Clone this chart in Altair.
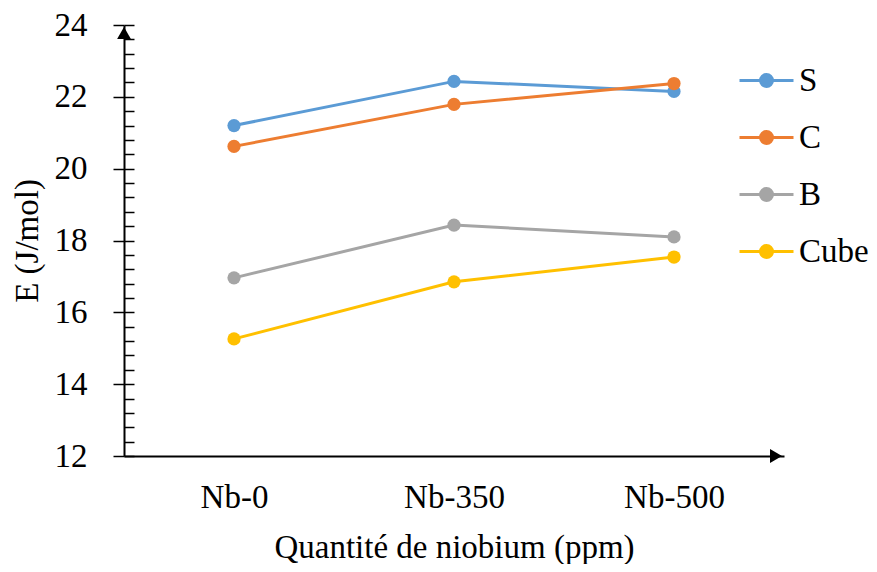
import altair as alt
import pandas as pd

# ---- data ----
categories = ["Nb-0", "Nb-350", "Nb-500"]
series_names = ["S", "C", "B", "Cube"]
S_vals = [21.2, 22.43, 22.15]
C_vals = [20.62, 21.79, 22.37]
B_vals = [16.96, 18.43, 18.1]
Cube_vals = [15.26, 16.85, 17.54]
colors = ["#5B9BD5", "#ED7D31", "#A5A5A5", "#FFC000"]
y_ticks = [12, 14, 16, 18, 20, 22, 24]
y_minor = [round(12 + 0.4 * i, 1) for i in range(31)]

rows = []
for name, vals in zip(series_names, [S_vals, C_vals, B_vals, Cube_vals]):
    for c, v in zip(categories, vals):
        rows.append({"Quantité": c, "E": v, "Série": name})
df = pd.DataFrame(rows)

W, H = 660, 431
FONT = "Liberation Serif"
FS = 33

ydom = alt.Scale(domain=[12, 24], nice=False, zero=False)
xscale = alt.Scale(type="point", padding=0.5)

# legend symbol: a line with a filled (concentric rings) circle
rings = [0.222, 0.167, 0.111, 0.056, 0.02]
path = "M-1,0L1,0"
for r in rings:
    path += f"M{r},0A{r},{r} 0 1,1 {-r},0A{r},{r} 0 1,1 {r},0"

x_axis = alt.Axis(title="Quantité de niobium (ppm)", labelAngle=0, ticks=False, tickSize=0,
                  labelPadding=25, titlePadding=17, domainColor="black", domainWidth=2,
                  labelFont=FONT, labelFontSize=FS, labelColor="black",
                  titleFont=FONT, titleFontSize=FS, titleColor="black",
                  titleFontWeight="normal", grid=False)

base = alt.Chart(df)

lines = base.mark_line(strokeWidth=3).encode(
    x=alt.X("Quantité:N", sort=categories, scale=xscale, axis=x_axis),
    y=alt.Y("E:Q", scale=ydom,
            axis=alt.Axis(title="E (J/mol)", values=y_ticks, tickSize=11, tickWidth=1.5,
                          tickColor="black", domainColor="black", domainWidth=2,
                          labelPadding=26, titlePadding=10, grid=False,
                          labelFont=FONT, labelFontSize=FS, labelColor="black",
                          titleFont=FONT, titleFontSize=FS, titleColor="black",
                          titleFontWeight="normal")),
    color=alt.Color("Série:N", sort=series_names,
                    scale=alt.Scale(domain=series_names, range=colors),
                    legend=alt.Legend(title=None, orient="none", legendX=614, legendY=27,
                                      symbolType=path, symbolSize=2916, symbolStrokeWidth=3,
                                      labelFont=FONT, labelFontSize=FS, labelColor="black",
                                      labelOffset=4, rowPadding=11, padding=0)),
    detail="Série:N",
)

points = base.mark_point(filled=True, size=175, opacity=1).encode(
    x=alt.X("Quantité:N", sort=categories, scale=xscale, axis=x_axis),
    y=alt.Y("E:Q", scale=ydom, axis=None),
    color=alt.Color("Série:N", sort=series_names,
                    scale=alt.Scale(domain=series_names, range=colors), legend=None),
)

arrow_df = pd.DataFrame({"v": [24]})
y_arrow = alt.Chart(arrow_df).mark_point(shape="triangle-up", filled=True, size=190,
                                         color="black", opacity=1, yOffset=8).encode(
    x=alt.value(0),
    y=alt.Y("v:Q", scale=ydom,
            axis=alt.Axis(orient="right", offset=-W, values=y_minor, tickSize=10,
                          tickWidth=1.5, tickColor="black", labels=False, domain=False,
                          title=None, grid=False)),
)

x_arrow_df = pd.DataFrame({"v": [12]})
x_arrow = alt.Chart(x_arrow_df).mark_point(shape="triangle-right", filled=True, size=190,
                                           color="black", opacity=1, xOffset=-8).encode(
    x=alt.value(W),
    y=alt.Y("v:Q", scale=ydom, axis=None),
)

chart = alt.layer(lines, points, y_arrow, x_arrow).resolve_axis(y="independent").properties(
    width=W, height=H,
    autosize=alt.AutoSizeParams(type="none"),
    padding={"left": 116, "top": 17, "right": 85, "bottom": 108},
).configure(background="white").configure_view(stroke=None)

chart.save("out.html", embed_options={"renderer": "svg", "actions": False})
